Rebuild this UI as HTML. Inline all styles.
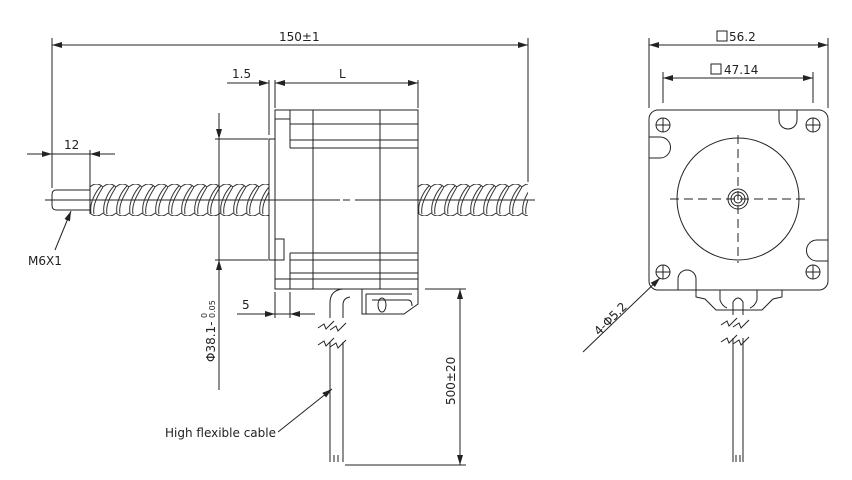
<!DOCTYPE html>
<html><head><meta charset="utf-8"><style>
html,body{margin:0;padding:0;background:#fff}
svg{display:block}
text{font-family:"DejaVu Sans","Liberation Sans",sans-serif;fill:#222;font-size:12px}
</style></head><body>
<svg width="852" height="480" viewBox="0 0 852 480" xmlns="http://www.w3.org/2000/svg">
<defs>
<marker id="a" viewBox="0 0 10 6" refX="10" refY="3" markerWidth="10" markerHeight="6" orient="auto-start-reverse" markerUnits="userSpaceOnUse"><path d="M0,0 L10,3 L0,6z" fill="#222"/></marker>
<pattern id="thr" patternUnits="userSpaceOnUse" x="90" y="184" width="13" height="32">
<path d="M0,3 Q6.5,-3 13,3 M0,29 Q6.5,35 13,29 M1,29 C-1,18 7,6 11,2 M4,30 C2,20 10,8 13,3" fill="none" stroke="#333" stroke-width="1"/>
</pattern>
<pattern id="thr2" patternUnits="userSpaceOnUse" x="418" y="184" width="13" height="32">
<path d="M0,3 Q6.5,-3 13,3 M0,29 Q6.5,35 13,29 M1,29 C-1,18 7,6 11,2 M4,30 C2,20 10,8 13,3" fill="none" stroke="#333" stroke-width="1"/>
</pattern>
</defs>
<g stroke="#222" stroke-width="1" fill="none">
<!-- 150 dim -->
<line x1="52" y1="38" x2="52" y2="188"/><line x1="528" y1="38" x2="528" y2="182"/>
<line x1="52" y1="45" x2="528" y2="45" marker-start="url(#a)" marker-end="url(#a)"/>
<!-- L dim -->
<line x1="269" y1="80" x2="269" y2="135"/><line x1="275" y1="80" x2="275" y2="108"/><line x1="418" y1="80" x2="418" y2="108"/>
<line x1="275" y1="83" x2="418" y2="83" marker-start="url(#a)" marker-end="url(#a)"/>
<line x1="227" y1="83" x2="269" y2="83" marker-end="url(#a)"/><line x1="275" y1="83" x2="300" y2="83"/>
<!-- 12 dim -->
<line x1="90" y1="150" x2="90" y2="186"/>
<line x1="27" y1="154" x2="52" y2="154" marker-end="url(#a)"/><line x1="52" y1="154" x2="90" y2="154"/><line x1="115" y1="154" x2="90" y2="154" marker-end="url(#a)"/>
<!-- centerline -->
<line x1="45" y1="200" x2="340" y2="200"/><line x1="343" y1="200" x2="350" y2="200"/><line x1="355" y1="200" x2="535" y2="200"/>
<!-- tip -->
<path d="M90,190 H56 Q52,190 52,195 V205 Q52,210 56,210 H90"/>
<!-- screws -->
<rect x="90" y="184" width="179" height="32" fill="url(#thr)" stroke="none"/>
<line x1="90" y1="186" x2="90" y2="214"/>
<rect x="418" y="184" width="110" height="32" fill="url(#thr2)" stroke="none"/>
<!-- motor body -->
<rect x="269" y="139" width="6" height="121"/>
<rect x="275" y="110" width="143" height="179"/>
<line x1="290" y1="110" x2="290" y2="148"/><line x1="290" y1="253" x2="290" y2="289"/>
<line x1="313" y1="110" x2="313" y2="289"/><line x1="380" y1="110" x2="380" y2="289"/>
<line x1="275" y1="119" x2="290" y2="119"/><line x1="290" y1="124" x2="418" y2="124"/><line x1="290" y1="140" x2="418" y2="140"/><line x1="290" y1="148" x2="418" y2="148"/>
<line x1="290" y1="253" x2="418" y2="253"/><line x1="290" y1="260" x2="418" y2="260"/><line x1="275" y1="279" x2="418" y2="279"/><line x1="290" y1="273" x2="418" y2="273"/>
<rect x="275" y="239" width="9" height="21"/>
<!-- phi dim -->
<line x1="215" y1="139" x2="268" y2="139"/><line x1="215" y1="260" x2="268" y2="260"/>
<line x1="219" y1="113" x2="219" y2="139" marker-end="url(#a)"/><line x1="219" y1="139" x2="219" y2="260"/>
<line x1="219" y1="390" x2="219" y2="260" marker-end="url(#a)"/>
<!-- 5 dim -->
<line x1="275" y1="292" x2="275" y2="318"/><line x1="290" y1="292" x2="290" y2="318"/>
<line x1="237" y1="314" x2="275" y2="314" marker-end="url(#a)"/><line x1="275" y1="314" x2="290" y2="314"/><line x1="315" y1="314" x2="290" y2="314" marker-end="url(#a)"/>
<!-- cable bend -->
<path d="M330,318 V303 Q330,290 343,289 H350 M343,318 V305 Q343,298 350,297"/>
<path d="M318,328 l6,-4 l2,5 l8,-8 M330,330 l6,-4 l2,5 l8,-8 M318,345 l6,-4 l2,5 l8,-8 M330,347 l6,-4 l2,5 l8,-8"/>
<path d="M330,342 V462 M343,342 V462 M334,462 V455 M338,462 V455"/>
<!-- connector -->
<path d="M362,289 V314 H404 L418,304 V289 M366,294 H412 M366,294 V314 M372,300 H408 Q412,300 412,306"/>
<ellipse cx="382" cy="305" rx="4" ry="7"/>
<!-- 500 dim -->
<line x1="425" y1="289" x2="466" y2="289"/><line x1="345" y1="465" x2="466" y2="465"/>
<line x1="460" y1="289" x2="460" y2="465" marker-start="url(#a)" marker-end="url(#a)"/>
<!-- leaders -->
<line x1="278" y1="432" x2="332" y2="389" marker-end="url(#a)"/>
<line x1="55" y1="250" x2="71" y2="211" marker-end="url(#a)"/>

<!-- RIGHT VIEW -->
<line x1="649" y1="38" x2="649" y2="108"/><line x1="828" y1="38" x2="828" y2="108"/>
<line x1="649" y1="45" x2="828" y2="45" marker-start="url(#a)" marker-end="url(#a)"/>
<line x1="663" y1="72" x2="663" y2="103"/><line x1="813" y1="72" x2="813" y2="103"/>
<line x1="663" y1="78" x2="813" y2="78" marker-start="url(#a)" marker-end="url(#a)"/>
<rect x="717" y="31" width="10" height="10"/><rect x="711" y="64" width="10" height="10"/>
<rect x="649" y="110" width="179" height="180" rx="9"/>
<g>
<circle cx="663" cy="125" r="7"/><path d="M656,125h14M663,118v14"/>
<circle cx="813" cy="125" r="7"/><path d="M806,125h14M813,118v14"/>
<circle cx="663" cy="272" r="7"/><path d="M656,272h14M663,265v14"/>
<circle cx="813" cy="272" r="7"/><path d="M806,272h14M813,265v14"/>
</g>
<path d="M649,137 H660 A9,9 0 0 1 660,158 H649"/>
<path d="M828,240 H817 A9,9 0 0 0 817,261 H828"/>
<path d="M779,110 V120 A9,9 0 0 0 797,120 V110"/>
<path d="M678,290 V279 A9,9 0 0 1 696,279 V290"/>
<circle cx="738" cy="199" r="61"/>
<circle cx="738" cy="199" r="10"/><circle cx="738" cy="199" r="7"/><circle cx="738" cy="199" r="4"/>
<path d="M670,199 H808 M738,135 V263" stroke-dasharray="9,5"/>
<path d="M696,290 V297 L705,299 L716,310 H762 L773,299 L782,297 V290"/>
<path d="M720,290 V300 Q722,306 727,308 M757,290 V300 Q755,306 750,308"/>
<path d="M733,315 V302 Q738,294 743,302 V315"/>
<path d="M721,325 l6,-4 l2,5 l8,-8 M733,327 l6,-4 l2,5 l8,-8 M721,342 l6,-4 l2,5 l8,-8 M733,344 l6,-4 l2,5 l8,-8"/>
<path d="M733,338 V462 M743,338 V462 M736,462 V455 M740,462 V455"/>
<line x1="583" y1="352" x2="660" y2="278" marker-end="url(#a)"/>
</g>
<text x="279" y="41">150±1</text>
<text x="232" y="78">1.5</text>
<text x="339" y="78">L</text>
<text x="64" y="149">12</text>
<text x="28" y="265">M6X1</text>
<text x="242" y="309">5</text>
<text x="165" y="437">High flexible cable</text>
<text x="729" y="41">56.2</text>
<text x="724" y="74">47.14</text>
<text transform="translate(215,362) rotate(-90)">Φ38.1-</text>
<text transform="translate(207,318) rotate(-90)" style="font-size:8px">0</text>
<text transform="translate(215,318) rotate(-90)" style="font-size:8px">0.05</text>
<text transform="translate(455,405) rotate(-90)">500±20</text>
<text transform="translate(599,336) rotate(-45)">4-Φ5.2</text>
</svg>
</body></html>
